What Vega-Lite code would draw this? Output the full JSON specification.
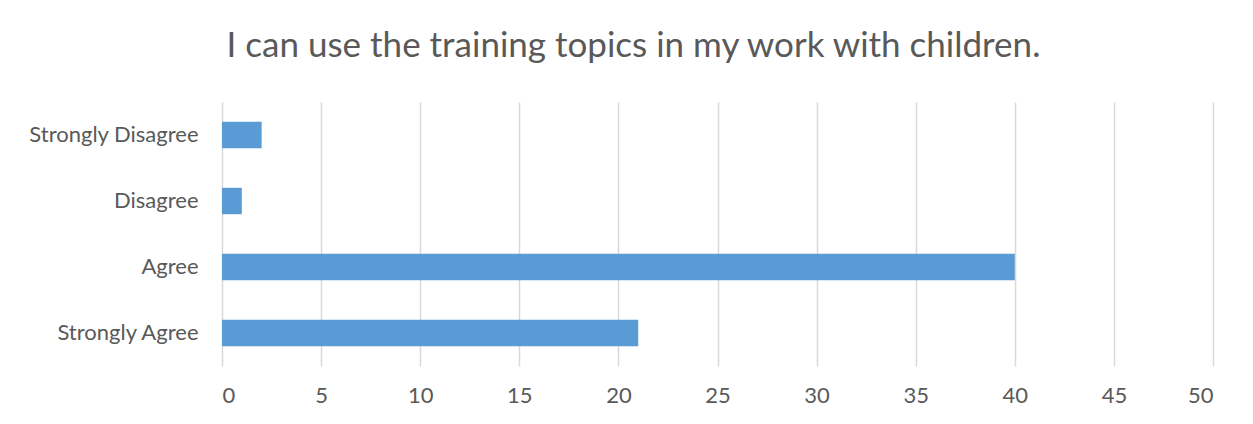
{
  "$schema": "https://vega.github.io/schema/vega-lite/v6.json",
  "autosize": "none",
  "width": 991,
  "height": 264,
  "padding": {"left": 222, "top": 102, "right": 40, "bottom": 58},
  "background": "#ffffff",
  "title": {
    "text": "I can use the training topics in my work with children.",
    "font": "Lato",
    "fontSize": 35,
    "fontWeight": "normal",
    "color": "#595959",
    "anchor": "middle",
    "frame": "group",
    "dx": -84,
    "baseline": "alphabetic",
    "offset": 10
  },
  "data": {
    "values": [
      {"response": "Strongly Disagree", "count": 2},
      {"response": "Disagree", "count": 1},
      {"response": "Agree", "count": 40},
      {"response": "Strongly Agree", "count": 21}
    ]
  },
  "mark": {"type": "bar", "color": "#5B9BD5"},
  "encoding": {
    "y": {
      "field": "response",
      "type": "nominal",
      "sort": ["Strongly Disagree", "Disagree", "Agree", "Strongly Agree"],
      "scale": {"paddingInner": 0.6, "paddingOuter": 0.3},
      "axis": {
        "title": null,
        "domain": false,
        "ticks": false,
        "labelPadding": 24,
        "labelFont": "Lato",
        "labelFontSize": 22,
        "labelColor": "#595959"
      }
    },
    "x": {
      "field": "count",
      "type": "quantitative",
      "scale": {"domain": [0, 50], "nice": false},
      "axis": {
        "title": null,
        "values": [0, 5, 10, 15, 20, 25, 30, 35, 40, 45, 50],
        "domain": false,
        "ticks": false,
        "grid": true,
        "gridColor": "#D9D9D9",
        "gridWidth": 1.5,
        "labelPadding": 19,
        "labelFont": "Lato",
        "labelFontSize": 22,
        "labelColor": "#595959"
      }
    }
  },
  "config": {"view": {"stroke": null}}
}
